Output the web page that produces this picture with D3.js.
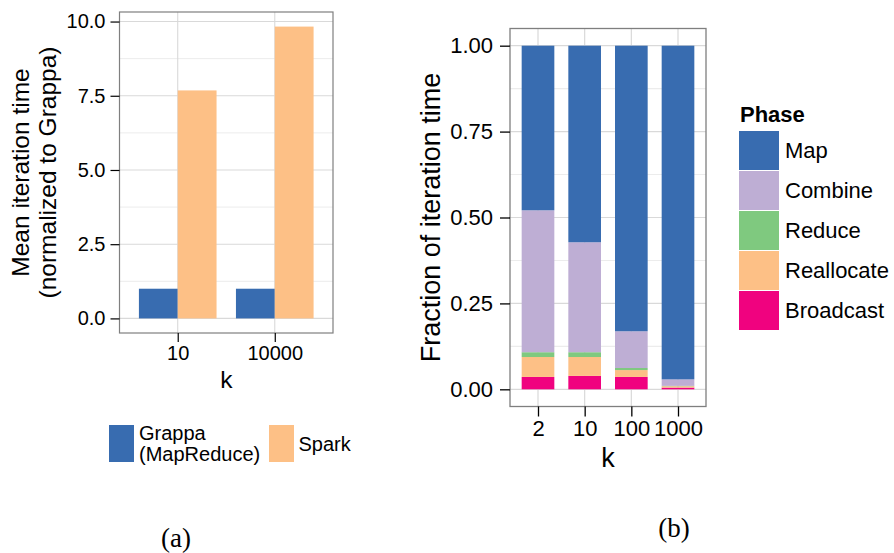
<!DOCTYPE html>
<html><head><meta charset="utf-8">
<script src="https://cdn.jsdelivr.net/npm/d3@7"></script>
<style>body{margin:0;background:#fff}svg{display:block}text{font-family:"Liberation Sans",Arial,Helvetica,sans-serif}text.cap{font-family:"Liberation Serif","DejaVu Serif",serif}</style>
</head><body><svg id="c" width="894" height="553"></svg>
<script>
// ---- Data: panel (a)
const kA = ["10", "10000"];
const systemsA = ["Grappa", "Spark"];
const grappaVals = [1.0, 1.0];
const sparkVals = [7.68, 9.83];
const yTicksA = [0, 2.5, 5, 7.5, 10];
const yMinorA = [1.25, 3.75, 6.25, 8.75];

// ---- Data: panel (b)
const kB = ["2", "10", "100", "1000"];
const phases = ["Map", "Combine", "Reduce", "Reallocate", "Broadcast"];
const broadcastVals = [0.036, 0.039, 0.036, 0.005];
const reallocateVals = [0.058, 0.055, 0.020, 0.004];
const reduceVals = [0.014, 0.014, 0.006, 0.001];
const combineVals = [0.413, 0.320, 0.107, 0.019];
const mapVals = [0.479, 0.572, 0.831, 0.971];
const yTicksB = [0, 0.25, 0.5, 0.75, 1.0];
const yMinorB = [0.125, 0.375, 0.625, 0.875];

const colors = {Map:"#386cb0", Combine:"#beaed4", Reduce:"#7fc97f", Reallocate:"#fdc086", Broadcast:"#f0027f", Grappa:"#386cb0", Spark:"#fdc086"};

const svg = d3.select("#c");

// ================= Panel (a) =================
{
  const L=119.5, R=333, T=12, B=333;
  const x = d3.scalePoint().domain(kA).range([L,R]).padding(0.6);
  const y = d3.scaleLinear().domain([-0.4915, 10.3215]).range([B,T]);
  const step = x.step();
  const g = svg.append("g");
  g.selectAll(".mn").data(yMinorA).join("line").attr("x1",L).attr("x2",R).attr("y1",d=>y(d)).attr("y2",d=>y(d)).attr("stroke","#ececec").attr("stroke-width",1);
  g.selectAll(".mj").data(yTicksA).join("line").attr("x1",L).attr("x2",R).attr("y1",d=>y(d)).attr("y2",d=>y(d)).attr("stroke","#d9d9d9").attr("stroke-width",1.1);
  g.selectAll(".vx").data(kA).join("line").attr("x1",d=>x(d)).attr("x2",d=>x(d)).attr("y1",T).attr("y2",B).attr("stroke","#d9d9d9").attr("stroke-width",1.1);
  const bw = step*0.8/2;
  const rows = kA.map((k,i)=>({k, Grappa:grappaVals[i], Spark:sparkVals[i]}));
  rows.forEach(r=>{
    systemsA.forEach((s,j)=>{
      g.append("rect").attr("x",x(r.k)-step*0.4+j*bw).attr("width",bw)
       .attr("y",y(r[s])).attr("height",y(0)-y(r[s])).attr("fill",colors[s]);
    });
  });
  g.append("rect").attr("x",L).attr("y",T).attr("width",R-L).attr("height",B-T).attr("fill","none").attr("stroke","#7f7f7f").attr("stroke-width",1.2);
  const ya = d3.axisLeft(y).tickValues(yTicksA).tickFormat(d3.format(".1f")).tickSize(9).tickPadding(5);
  const yg = svg.append("g").attr("transform",`translate(${L},0)`).call(ya);
  yg.select(".domain").remove();
  yg.selectAll("line").attr("stroke","#000").attr("stroke-width",1.2);
  yg.selectAll("text").attr("font-size",20).attr("fill","#000").style("font-family","Liberation Sans, Arial, sans-serif");
  const xa = d3.axisBottom(x).tickSize(9).tickPadding(4);
  const xg = svg.append("g").attr("transform",`translate(0,${B})`).call(xa);
  xg.select(".domain").remove();
  xg.selectAll("line").attr("stroke","#000").attr("stroke-width",1.2);
  xg.selectAll("text").attr("font-size",20).attr("fill","#000").style("font-family","Liberation Sans, Arial, sans-serif");
  svg.append("text").attr("x",(L+R)/2).attr("y",388).attr("text-anchor","middle").attr("font-size",24.5).text("k");
  const yt = svg.append("text").attr("transform",`translate(28.5,${(T+B)/2}) rotate(-90)`).attr("text-anchor","middle").attr("font-size",24.5);
  yt.append("tspan").attr("x",0).attr("y",0).text("Mean iteration time");
  yt.append("tspan").attr("x",0).attr("y",27).text("(normalized to Grappa)");
  const lg = svg.append("g");
  lg.append("rect").attr("x",109).attr("y",425).attr("width",25).attr("height",37).attr("fill",colors.Grappa);
  lg.append("text").attr("x",139).attr("y",440).attr("font-size",20).text("Grappa");
  lg.append("text").attr("x",139).attr("y",461).attr("font-size",20).text("(MapReduce)");
  lg.append("rect").attr("x",269).attr("y",425).attr("width",25).attr("height",37).attr("fill",colors.Spark);
  lg.append("text").attr("x",298.5).attr("y",451).attr("font-size",20).text("Spark");
  svg.append("text").attr("class","cap").attr("x",176).attr("y",547).attr("text-anchor","middle").attr("font-size",27).text("(a)");
}

// ================= Panel (b) =================
{
  const L=510, R=706, T=28.5, B=406.5;
  const x = d3.scalePoint().domain(kB).range([L,R]).padding(0.6);
  const y = d3.scaleLinear().domain([-0.05, 1.05]).range([B,T]);
  const step = x.step();
  const g = svg.append("g");
  g.selectAll(".mn").data(yMinorB).join("line").attr("x1",L).attr("x2",R).attr("y1",d=>y(d)).attr("y2",d=>y(d)).attr("stroke","#ececec").attr("stroke-width",1.1);
  g.selectAll(".mj").data(yTicksB).join("line").attr("x1",L).attr("x2",R).attr("y1",d=>y(d)).attr("y2",d=>y(d)).attr("stroke","#d9d9d9").attr("stroke-width",1.2);
  g.selectAll(".vx").data(kB).join("line").attr("x1",d=>x(d)).attr("x2",d=>x(d)).attr("y1",T).attr("y2",B).attr("stroke","#d9d9d9").attr("stroke-width",1.2);
  const table = kB.map((k,i)=>({k, Map:mapVals[i], Combine:combineVals[i], Reduce:reduceVals[i], Reallocate:reallocateVals[i], Broadcast:broadcastVals[i]}));
  const stackOrder = ["Broadcast","Reallocate","Reduce","Combine","Map"];
  const stack = d3.stack().keys(stackOrder)(table);
  const bw = step*0.7;
  stack.forEach(layer=>{
    g.selectAll(null).data(layer).join("rect")
      .attr("x",d=>x(d.data.k)-bw/2).attr("width",bw)
      .attr("y",d=>y(d[1])).attr("height",d=>y(d[0])-y(d[1]))
      .attr("fill",colors[layer.key]);
  });
  g.append("rect").attr("x",L).attr("y",T).attr("width",R-L).attr("height",B-T).attr("fill","none").attr("stroke","#7f7f7f").attr("stroke-width",1.3);
  const ya = d3.axisLeft(y).tickValues(yTicksB).tickFormat(d3.format(".2f")).tickSize(10).tickPadding(7);
  const yg = svg.append("g").attr("transform",`translate(${L},0)`).call(ya);
  yg.select(".domain").remove();
  yg.selectAll("line").attr("stroke","#000").attr("stroke-width",1.3);
  yg.selectAll("text").attr("font-size",22).attr("fill","#000").style("font-family","Liberation Sans, Arial, sans-serif");
  const xa = d3.axisBottom(x).tickSize(10).tickPadding(4);
  const xg = svg.append("g").attr("transform",`translate(0,${B})`).call(xa);
  xg.select(".domain").remove();
  xg.selectAll("line").attr("stroke","#000").attr("stroke-width",1.3);
  xg.selectAll("text").attr("font-size",22).attr("fill","#000").style("font-family","Liberation Sans, Arial, sans-serif");
  svg.append("text").attr("x",(L+R)/2).attr("y",466.5).attr("text-anchor","middle").attr("font-size",27).text("k");
  svg.append("text").attr("transform",`translate(440,${(T+B)/2}) rotate(-90)`).attr("text-anchor","middle").attr("font-size",27).text("Fraction of iteration time");
  const lg = svg.append("g");
  lg.append("text").attr("x",740).attr("y",121.5).attr("font-size",22).attr("font-weight","bold").text("Phase");
  phases.forEach((p,i)=>{
    lg.append("rect").attr("x",739).attr("y",131+i*40).attr("width",40).attr("height",39).attr("fill",colors[p]);
    lg.append("text").attr("x",785).attr("y",131+i*40+19.5).attr("dy","0.36em").attr("font-size",22).text(p);
  });
  svg.append("text").attr("class","cap").attr("x",674).attr("y",537).attr("text-anchor","middle").attr("font-size",27).text("(b)");
}
</script></body></html>
